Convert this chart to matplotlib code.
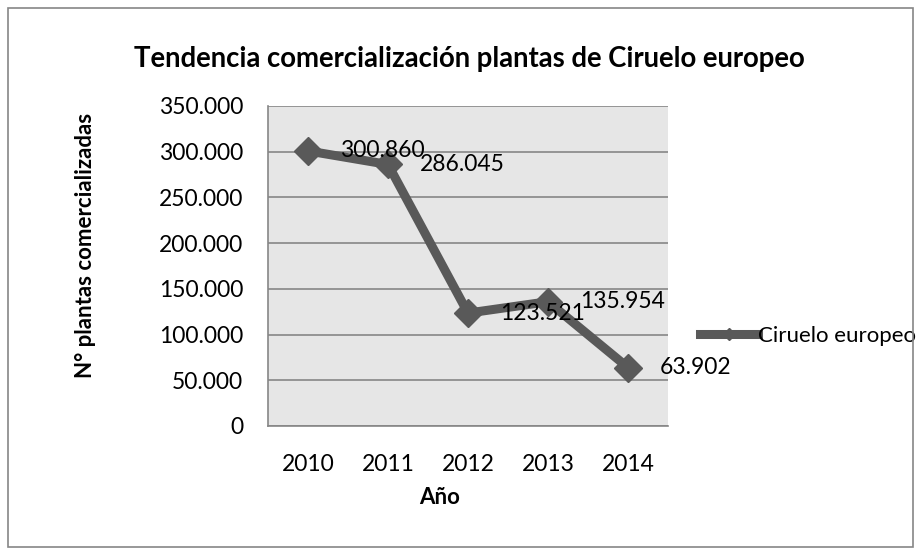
import matplotlib
matplotlib.use("Agg")
from matplotlib import pyplot as plt
from matplotlib.patches import Rectangle
from matplotlib.ticker import FuncFormatter

# data
years = ['2010', '2011', '2012', '2013', '2014']
plants = [300860, 286045, 123521, 135954, 63902]
series_name = 'Ciruelo europeo'

plt.rcParams['font.family'] = ['Lato', 'DejaVu Sans']

W, H = 921, 555
fig = plt.figure(figsize=(W / 100, H / 100), dpi=100)
ax = fig.add_axes([268 / W, 1 - 426 / H, 400 / W, 320 / H])

line_color = '#595959'
x = list(range(len(years)))
ax.plot(x, plants, color=line_color, linewidth=6.5, marker='D', markersize=14,
        solid_joinstyle='miter', label=series_name)


def es_fmt(v):
    return f'{int(v):,}'.replace(',', '.')


# data labels to the right of each point
for xi, v in zip(x, plants):
    ax.annotate(es_fmt(v), (xi, v), xytext=(23, 0), textcoords='offset points',
                ha='left', va='center', fontsize=16.5, color='black', clip_on=False)

ax.set_xlim(-0.5, len(years) - 0.5)
ax.set_ylim(0, 350000)
ax.set_yticks(range(0, 350001, 50000))
ax.yaxis.set_major_formatter(FuncFormatter(lambda v, p: es_fmt(v)))
ax.set_xticks(x)
ax.set_xticklabels(years)

ax.set_facecolor('#e6e6e6')
ax.grid(axis='y', color='#868686', linewidth=1.2)
ax.set_axisbelow(True)
for s in ['top', 'right']:
    ax.spines[s].set_visible(False)
for s in ['left', 'bottom']:
    ax.spines[s].set_color('#868686')
    ax.spines[s].set_linewidth(1.2)
ax.tick_params(length=0, labelsize=16.5)
ax.tick_params(axis='y', pad=18)
ax.tick_params(axis='x', pad=20)

fig.text(85 / W, 1 - 245 / H, 'N° plantas comercializadas', rotation=90,
         ha='center', va='center', fontsize=16, fontweight='bold')
fig.text(440 / W, 1 - 498 / H, 'Año', ha='center', va='center',
         fontsize=16, fontweight='bold')
fig.text(469 / W, 1 - 59 / H, 'Tendencia comercialización plantas de Ciruelo europeo',
         ha='center', va='center', fontsize=19.8, fontweight='bold')

leg = ax.legend(loc='center left', bbox_to_anchor=(700 / W, 1 - 336 / H),
                bbox_transform=fig.transFigure, frameon=False,
                fontsize=16, handlelength=2.6, handletextpad=0.0, borderaxespad=0,
                borderpad=0, markerscale=0.45)

# outer chart border
fig.patches.append(Rectangle((8 / W, 8 / H), 905 / W, 539 / H,
                             transform=fig.transFigure, fill=False,
                             edgecolor='#868686', linewidth=1.2))

plt.savefig('out.png', dpi=100)
